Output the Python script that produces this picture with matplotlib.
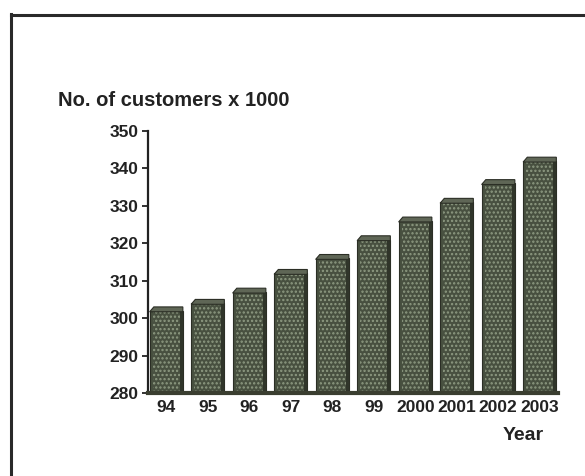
import matplotlib
matplotlib.use("Agg")
import matplotlib.pyplot as plt
from matplotlib.patches import Polygon
from matplotlib.lines import Line2D
import numpy as np

years = ["94", "95", "96", "97", "98", "99", "2000", "2001", "2002", "2003"]
customers = [302, 304, 307, 312, 316, 321, 326, 331, 336, 342]
y_ticks = [280, 290, 300, 310, 320, 330, 340, 350]

plt.rcParams['font.family'] = ['Liberation Sans', 'DejaVu Sans']
plt.rcParams['hatch.linewidth'] = 1.1

fig = plt.figure(figsize=(5.85, 4.76), dpi=100)
fig.patch.set_facecolor('white')
ax = fig.add_axes([148/585, 1 - 393/476, 410/585, 262/476])

base = 280
x = np.arange(len(years))
w = 0.8
face = '#485040'
dots = '#8e9a82'
capc = '#5f6656'
sidec = '#30352a'
edge = '#2b2e25'

heights = [v - base for v in customers]
ax.bar(x, heights, bottom=base, width=w, color=face, edgecolor=edge, linewidth=0.8, zorder=2)
ax.bar(x, heights, bottom=base, width=w - 0.16, facecolor='none', edgecolor=dots,
       hatch='....', linewidth=0, zorder=3)
# right side strip
ax.bar(x + w/2 - 0.07, heights, bottom=base, width=0.07, align='edge', color=sidec,
       linewidth=0, zorder=4)
# top caps
for xi, v in zip(x, customers):
    cap = Polygon([(xi - w/2, v - 0.3), (xi - w/2 + 0.1, v + 1.0), (xi + w/2, v + 1.0),
                   (xi + w/2, v - 0.3)], closed=True, facecolor=capc, edgecolor=edge,
                  linewidth=0.8, zorder=5)
    ax.add_patch(cap)

ax.set_xlim(-0.44, len(years) - 0.56)
ax.set_ylim(280, 350)
ax.set_yticks(y_ticks)
ax.set_yticklabels([str(t) for t in y_ticks], fontsize=12.5, fontweight='bold', color='#222222')
ax.set_xticks(x)
ax.set_xticklabels(years, fontsize=12.5, fontweight='bold', color='#222222')
ax.tick_params(axis='x', length=0, pad=5)
ax.tick_params(axis='y', direction='out', length=4, width=1.3, pad=3, colors='#222222')

for s in ['top', 'right']:
    ax.spines[s].set_visible(False)
ax.spines['left'].set_linewidth(1.6)
ax.spines['left'].set_color('#222222')
ax.spines['bottom'].set_linewidth(3)
ax.spines['bottom'].set_color('#3a3e30')
ax.spines['bottom'].set_zorder(6)

fig.text(58/585, 1 - 100/476, "No. of customers x 1000", fontsize=14.5, fontweight='bold',
         color='#222222', ha='left', va='center')
fig.text(544/585, 1 - 435/476, "Year", fontsize=14, fontweight='bold', color='#222222',
         ha='right', va='center')

# scanned frame border
fig.add_artist(Line2D([11/585, 11/585], [0, 1 - 14/476], transform=fig.transFigure,
                      color='#2a2a2a', linewidth=2.2))
fig.add_artist(Line2D([11/585, 1], [1 - 15/476, 1 - 15/476], transform=fig.transFigure,
                      color='#2a2a2a', linewidth=2.2))

fig.savefig("out.png", dpi=100, facecolor='white')
